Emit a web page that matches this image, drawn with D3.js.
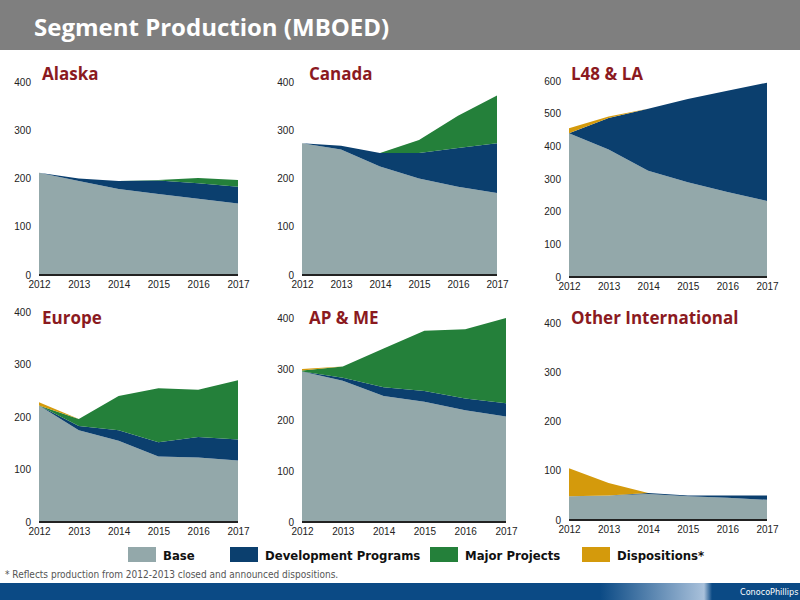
<!DOCTYPE html>
<html><head><meta charset="utf-8">
<script src="https://cdn.jsdelivr.net/npm/d3@7"></script>
<style>body{margin:0;background:#fff;font-family:"Liberation Sans Narrow","DejaVu Sans Condensed",sans-serif}</style>
</head><body>
<script>
var years = [2012, 2013, 2014, 2015, 2016, 2017];
var seriesNames = ["Base", "Development Programs", "Major Projects", "Dispositions*"];
var colors = ["#93a8aa", "#0b3f6e", "#24803a", "#d49a0c"];

// per segment: base, development, major, dispositions (MBOED)
var alaskaBase = [212, 195, 178, 168, 158, 148];
var alaskaDev = [0, 5, 17, 28, 32, 35];
var alaskaMajor = [0, 0, 0, 1, 11, 14];
var canadaBase = [273, 260, 225, 200, 183, 170];
var canadaDev = [0, 8, 28, 53, 80, 103];
var canadaMajor = [0, 0, 0, 27, 67, 99];
var l48Base = [440, 390, 325, 290, 260, 233];
var l48Dev = [0, 97, 190, 255, 310, 362];
var l48Disp = [15, 4, 0, 0, 0, 0];
var europeBase = [222, 175, 155, 125, 123, 117];
var europeDev = [0, 8, 20, 27, 39, 40];
var europeMajor = [0, 13, 65, 103, 90, 113];
var europeDisp = [6, 0, 0, 0, 0, 0];
var apmeBase = [295, 277, 247, 236, 219, 207];
var apmeDev = [0, 6, 17, 21, 23, 26];
var apmeMajor = [2, 22, 76, 118, 136, 167];
var apmeDisp = [3, 0, 0, 0, 0, 0];
var otherBase = [48, 50, 53, 48, 45, 41];
var otherDev = [0, 0, 2, 2, 5, 9];
var otherDisp = [57, 25, 0, 0, 0, 0];
var zeros = [0, 0, 0, 0, 0, 0];

var panels = [
  {name: "Alaska", vals: [alaskaBase, alaskaDev, alaskaMajor, zeros], max: 400, x0: 39, x1: 238, y0: 275, y1: 82, tx: 42, ty: 80},
  {name: "Canada", vals: [canadaBase, canadaDev, canadaMajor, zeros], max: 400, x0: 302, x1: 497, y0: 275, y1: 82, tx: 309, ty: 80},
  {name: "L48 & LA", vals: [l48Base, l48Dev, zeros, l48Disp], max: 600, x0: 569, x1: 767, y0: 277, y1: 81, tx: 571, ty: 80},
  {name: "Europe", vals: [europeBase, europeDev, europeMajor, europeDisp], max: 400, x0: 39, x1: 238, y0: 522, y1: 312, tx: 42, ty: 324},
  {name: "AP & ME", vals: [apmeBase, apmeDev, apmeMajor, apmeDisp], max: 400, x0: 302, x1: 506, y0: 522, y1: 318, tx: 309, ty: 324},
  {name: "Other International", vals: [otherBase, otherDev, zeros, otherDisp], max: 400, x0: 569, x1: 767, y0: 520, y1: 323, tx: 571, ty: 324}
];

var svg = d3.select("body").append("svg").attr("width", 800).attr("height", 600);

svg.append("rect").attr("width", 800).attr("height", 50).attr("fill", "#7f7f7f");
svg.append("text").attr("x", 34).attr("y", 36).attr("fill", "#fff")
  .style("font-family", "'Open Sans',sans-serif").style("font-weight", "bold").style("font-size", "24px")
  .text("Segment Production (MBOED)");

panels.forEach(function(p) {
  var x = d3.scaleLinear().domain([2012, 2017]).range([p.x0, p.x1]);
  var y = d3.scaleLinear().domain([0, p.max]).range([p.y0, p.y1]);
  var rows = years.map(function(yr, i) {
    var r = {year: yr};
    seriesNames.forEach(function(s, k) { r[s] = p.vals[k][i]; });
    return r;
  });
  var stacked = d3.stack().keys(seriesNames)(rows);
  var area = d3.area().x(function(d) { return x(d.data.year); })
    .y0(function(d) { return y(d[0]); }).y1(function(d) { return y(d[1]); });
  var g = svg.append("g");
  g.selectAll("path").data(stacked).enter().append("path")
    .attr("d", area).attr("fill", function(d, i) { return colors[i]; });
  g.append("line").attr("x1", p.x0).attr("x2", p.x1).attr("y1", p.y0).attr("y2", p.y0)
    .attr("stroke", "#222").attr("stroke-width", 2);

  var ya = d3.axisLeft(y).ticks(p.max / 100).tickSize(0).tickPadding(8);
  var gy = svg.append("g").attr("transform", "translate(" + p.x0 + ",0)").call(ya);
  gy.select(".domain").remove();
  var xa = d3.axisBottom(x).tickValues(years).tickFormat(d3.format("d")).tickSize(0).tickPadding(6);
  var gx = svg.append("g").attr("transform", "translate(0," + p.y0 + ")").call(xa);
  gx.select(".domain").remove();
  svg.selectAll(".tick text").style("font-size", "10px").style("font-family", "'Liberation Sans Narrow',sans-serif").attr("fill", "#222");

  svg.append("text").attr("x", p.tx).attr("y", p.ty).attr("fill", "#8b1a1f")
    .style("font-family", "'Open Sans',sans-serif").style("font-weight", "bold").style("font-size", "17px")
    .text(p.name);
});

var lx = [128, 230, 430, 582];
seriesNames.forEach(function(s, i) {
  svg.append("rect").attr("x", lx[i]).attr("y", 547).attr("width", 28).attr("height", 15).attr("fill", colors[i]);
  svg.append("text").attr("x", lx[i] + 35).attr("y", 560).attr("fill", "#111")
    .style("font-weight", "bold").style("font-size", "13px").text(s);
});
svg.append("text").attr("x", 5).attr("y", 578).attr("fill", "#555").style("font-size", "10px")
  .text("* Reflects production from 2012-2013 closed and announced dispositions.");

var grad = svg.append("defs").append("linearGradient").attr("id", "bar");
grad.append("stop").attr("offset", "0").attr("stop-color", "#0b4a85");
grad.append("stop").attr("offset", "0.75").attr("stop-color", "#0b4a85");
grad.append("stop").attr("offset", "0.88").attr("stop-color", "#a9c1db");
grad.append("stop").attr("offset", "0.89").attr("stop-color", "#0b4a85");
svg.append("rect").attr("y", 583).attr("width", 800).attr("height", 17).attr("fill", "url(#bar)");
svg.append("text").attr("x", 740).attr("y", 595).attr("fill", "#fff").style("font-size", "9px").text("ConocoPhillips");
</script>
</body></html>
